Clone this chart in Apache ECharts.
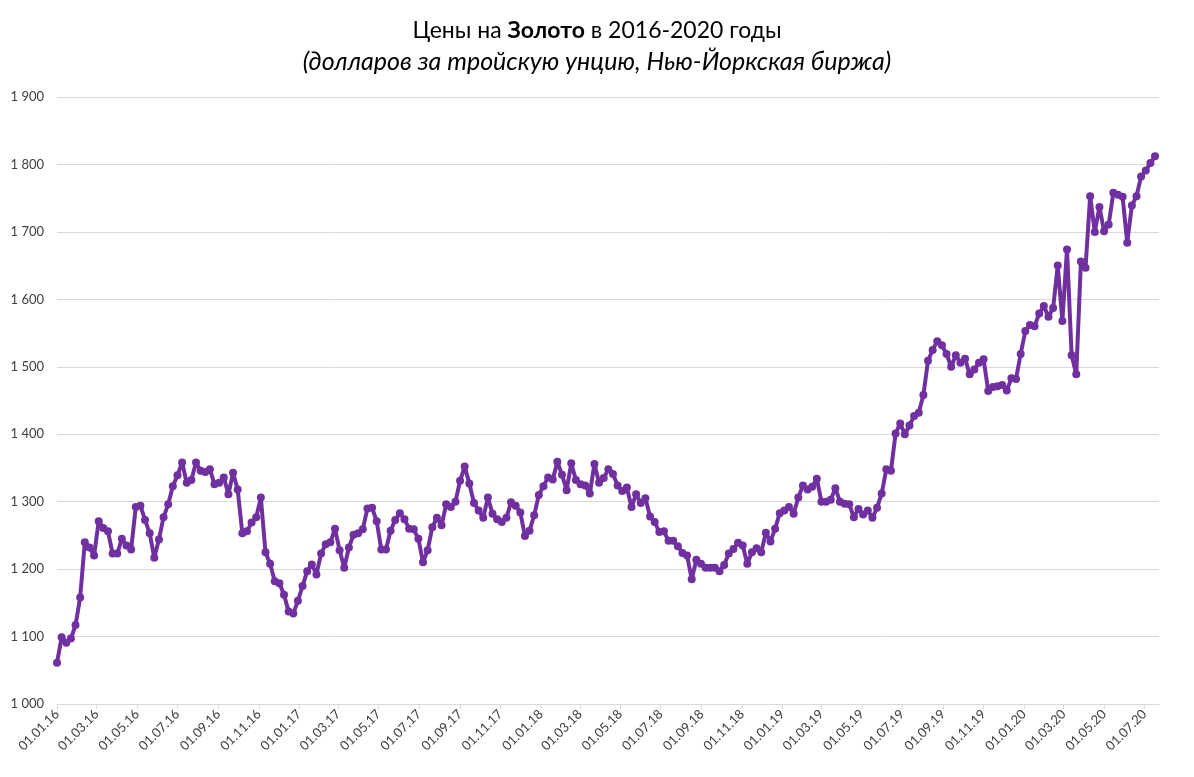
<!DOCTYPE html>
<html>
<head>
<meta charset="utf-8">
<script src="https://cdn.jsdelivr.net/npm/echarts@6/dist/echarts.min.js"></script>
<style>
html,body{margin:0;padding:0;background:#fff;}
#chart{width:1194px;height:777px;}
</style>
</head>
<body>
<div id="chart"></div>
<script>
// Weekly observations (Fridays), starting 2016-01-01
const firstDate = [2016, 1, 1];
const weekStepDays = 7;

const goldPrices = [
  1061,1099,1091,1097,1117,1158,1240,1232,1220,1271,
  1261,1256,1223,1223,1245,1235,1229,1292,1294,1273,
  1253,1217,1244,1277,1296,1323,1339,1358,1328,1332,
  1358,1346,1344,1348,1326,1328,1336,1311,1343,1318,
  1253,1256,1269,1277,1306,1225,1208,1182,1179,1162,
  1137,1134,1153,1175,1197,1207,1192,1223,1237,1240,
  1260,1228,1202,1232,1251,1253,1259,1290,1291,1271,
  1229,1229,1257,1273,1283,1274,1260,1259,1245,1210,
  1228,1262,1276,1265,1296,1292,1300,1331,1352,1327,
  1298,1287,1276,1306,1282,1274,1270,1276,1299,1294,
  1284,1249,1257,1280,1310,1323,1336,1333,1359,1340,
  1317,1357,1332,1326,1324,1312,1356,1328,1335,1348,
  1341,1324,1316,1321,1292,1311,1298,1305,1278,1270,
  1255,1256,1242,1242,1234,1224,1220,1185,1214,1208,
  1202,1202,1202,1197,1206,1223,1230,1239,1235,1208,
  1225,1231,1225,1254,1241,1260,1283,1287,1292,1282,
  1306,1324,1318,1322,1334,1300,1300,1303,1320,1300,
  1297,1296,1277,1289,1281,1287,1276,1291,1312,1348,
  1346,1401,1416,1400,1413,1427,1432,1458,1509,1525,
  1538,1532,1519,1500,1517,1506,1512,1489,1496,1506,
  1511,1464,1470,1471,1473,1465,1483,1482,1519,1553,
  1562,1560,1579,1590,1574,1587,1650,1568,1674,1517,
  1489,1656,1647,1753,1700,1737,1701,1711,1758,1755,
  1752,1684,1739,1753,1782,1791,1802,1812
];

// X-axis tick label dates (every two months)
const tickDates = [
  '2016-01-01','2016-03-01','2016-05-01','2016-07-01','2016-09-01','2016-11-01',
  '2017-01-01','2017-03-01','2017-05-01','2017-07-01','2017-09-01','2017-11-01',
  '2018-01-01','2018-03-01','2018-05-01','2018-07-01','2018-09-01','2018-11-01',
  '2019-01-01','2019-03-01','2019-05-01','2019-07-01','2019-09-01','2019-11-01',
  '2020-01-01','2020-03-01','2020-05-01','2020-07-01'
];
const yTicks = [1000, 1100, 1200, 1300, 1400, 1500, 1600, 1700, 1800, 1900];
const axisEndDate = '2020-07-23';

function ts(str) {
  const p = str.split('-').map(Number);
  return new Date(p[0], p[1] - 1, p[2]).getTime();
}
const seriesData = goldPrices.map(function (v, i) {
  const d = new Date(firstDate[0], firstDate[1] - 1, firstDate[2] + i * weekStepDays);
  return [d.getTime(), v];
});
const tickValues = tickDates.map(ts);

function fmtDate(val) {
  const d = new Date(val);
  const dd = String(d.getDate()).padStart(2, '0');
  const mm = String(d.getMonth() + 1).padStart(2, '0');
  const yy = String(d.getFullYear()).slice(2);
  return dd + '.' + mm + '.' + yy;
}
function fmtNum(v) {
  return String(v).replace(/\B(?=(\d{3})+(?!\d))/g, ' ');
}

const chart = echarts.init(document.getElementById('chart'));
chart.setOption({
  backgroundColor: '#ffffff',
  animation: false,
  title: {
    left: 'center',
    top: 14,
    text: '{n|Цены на }{b|Золото}{n| в 2016-2020 годы}',
    subtext: '(долларов за тройскую унцию, Нью-Йоркская биржа)',
    itemGap: 7,
    textStyle: {
      rich: {
        n: { fontFamily: 'Lato', fontSize: 23, color: '#000', fontWeight: 'normal' },
        b: { fontFamily: 'Lato', fontSize: 23, color: '#000', fontWeight: 'bold' }
      }
    },
    subtextStyle: {
      fontFamily: 'Lato', fontSize: 25, fontStyle: 'italic', color: '#000'
    }
  },
  grid: { left: 57, right: 35, top: 97, bottom: 73, containLabel: false },
  xAxis: {
    type: 'value',
    min: ts(tickDates[0]),
    max: ts(axisEndDate),
    axisLine: { show: true, lineStyle: { color: '#d9d9d9', width: 1 } },
    axisTick: { show: true, length: 5, lineStyle: { color: '#d9d9d9' }, customValues: tickValues },
    splitLine: { show: false },
    axisLabel: {
      customValues: tickValues,
      rotate: 45,
      margin: 8,
      fontFamily: 'Lato',
      fontSize: 13,
      color: '#404040',
      formatter: function (v) { return fmtDate(v); }
    }
  },
  yAxis: {
    type: 'value',
    min: yTicks[0],
    max: yTicks[yTicks.length - 1],
    interval: 100,
    axisLine: { show: false },
    axisTick: { show: false },
    splitLine: { show: true, lineStyle: { color: '#d9d9d9', width: 1 } },
    axisLabel: {
      margin: 13,
      fontFamily: 'Lato',
      fontSize: 13,
      color: '#404040',
      formatter: function (v) { return fmtNum(v); }
    }
  },
  series: [{
    type: 'line',
    data: seriesData,
    symbol: 'circle',
    symbolSize: 8,
    showAllSymbol: true,
    lineStyle: { color: '#7030A0', width: 4 },
    itemStyle: { color: '#7030A0' }
  }]
});
</script>
</body>
</html>
